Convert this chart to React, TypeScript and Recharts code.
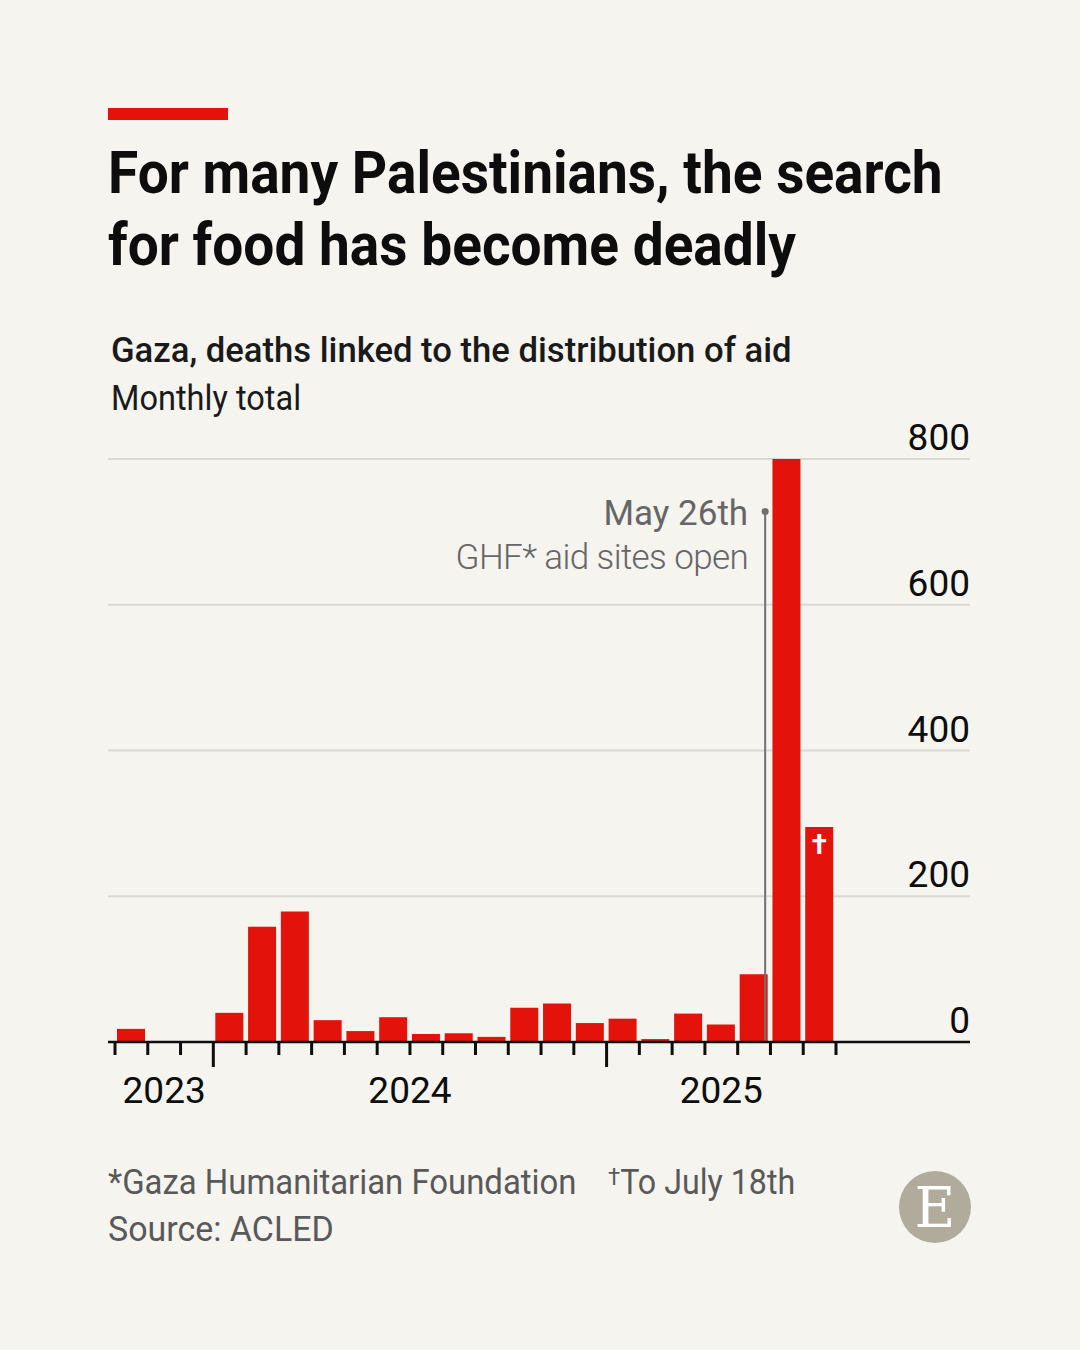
import React from 'react';
import { BarChart, Bar, XAxis, YAxis, CartesianGrid, ReferenceLine, LabelList } from 'recharts';

// ---------- data ----------
const months = [
  '2023-10', '2023-11', '2023-12',
  '2024-01', '2024-02', '2024-03', '2024-04', '2024-05', '2024-06',
  '2024-07', '2024-08', '2024-09', '2024-10', '2024-11', '2024-12',
  '2025-01', '2025-02', '2025-03', '2025-04', '2025-05', '2025-06', '2025-07',
];
const deaths = [18, 0, 0, 40, 158, 179, 30, 15, 34, 11, 12, 7, 47, 53, 26, 32, 4, 39, 24, 93, 800, 295];
const notes = ['', '', '', '', '', '', '', '', '', '', '', '', '', '', '', '', '', '', '', '', '', '†'];
const yTicks = [0, 200, 400, 600, 800];
const annotationMonth = '2025-05';
const annotationDay = 26;
const annotationDaysInMonth = 31;
const annotationValue = 728;
const annotationLines = ['May 26th', 'GHF* aid sites open'];

const data = months.map((m, i) => ({ month: m, deaths: deaths[i], note: notes[i] }));

// ---------- layout ----------
const W = 1080;
const H = 1350;
const PLOT_LEFT = 108;
const PLOT_RIGHT = 970;
const PLOT_TOP = 459;
const PLOT_BOTTOM = 1042;
const PAD_L = 7;
const PAD_R = 134;
const X_AXIS_H = 80;
const Y_AXIS_W = 2;
const BAND = (PLOT_RIGHT - PLOT_LEFT - PAD_L - PAD_R) / months.length;

const FONT = "Roboto, sans-serif";
const BG = '#f5f4ef';
const RED = '#e3120b';
const INK = '#0d0d0d';
const GREY = '#666666';

const yearOf = (m: string) => m.slice(0, 4);

const XTick = (props: any) => {
  const { x, y, payload } = props;
  const i = payload.index;
  const m = months[i];
  const half = BAND / 2;
  const isJan = m.endsWith('-01');
  const yr = yearOf(m);
  const idxs = months.map((mm, k) => (yearOf(mm) === yr ? k : -1)).filter((k) => k >= 0);
  const first = idxs[0];
  const last = idxs[idxs.length - 1];
  const showYear = i === first;
  const cx = x + ((first + last) / 2 - i) * BAND;
  return (
    <g>
      <line x1={x - half} x2={x - half} y1={y} y2={y + (isJan ? 25 : 13)} stroke={INK} strokeWidth={3} />
      {i === months.length - 1 && (
        <line x1={x + half} x2={x + half} y1={y} y2={y + 13} stroke={INK} strokeWidth={3} />
      )}
      {showYear && (
        <text x={cx} y={y + 61} textAnchor="middle" fontFamily={FONT} fontSize={37} fill={INK}>
          {yr}
        </text>
      )}
    </g>
  );
};

const YTick = (props: any) => {
  const { y, payload } = props;
  return (
    <text x={PLOT_RIGHT} y={y - 9} textAnchor="end" fontFamily={FONT} fontSize={37} fill={INK}>
      {payload.value}
    </text>
  );
};

const AnnotationShape = (props: any) => {
  const { x1, y1, x2, y2 } = props;
  const shift = BAND * (annotationDay / annotationDaysInMonth - 0.5);
  const lx = x1 + shift;
  const top = Math.min(y1, y2);
  const bottom = Math.max(y1, y2);
  return (
    <g>
      <line x1={lx} x2={lx} y1={top} y2={bottom} stroke="#707070" strokeWidth={2} />
      <circle cx={lx} cy={top} r={3.5} fill="#707070" />
      <text x={lx - 17} y={top + 14} textAnchor="end" fontFamily={FONT} fontSize={35} fill={GREY}>
        {annotationLines[0]}
      </text>
      <text x={lx - 17} y={top + 58} textAnchor="end" fontFamily={FONT} fontSize={35} fill={GREY} fontWeight={300} letterSpacing={-0.6}>
        {annotationLines[1]}
      </text>
    </g>
  );
};

const NoteLabel = (props: any) => {
  const { x, y, width, value } = props;
  if (!value) return null;
  return (
    <text x={x + width / 2} y={y + 27} textAnchor="middle" fontFamily={FONT} fontSize={28} fontWeight={700} fill="#ffffff">
      {value}
    </text>
  );
};

const squeeze = (k: number): React.CSSProperties => ({
  display: 'inline-block',
  transform: `scaleX(${k})`,
  transformOrigin: 'left top',
});

export default function App() {
  return (
    <div style={{ position: 'absolute', left: 0, top: 0, width: W, height: H, background: BG, overflow: 'hidden', fontFamily: FONT }}>
      <div style={{ position: 'absolute', left: 108, top: 108, width: 120, height: 12, background: RED }} />
      <div style={{ position: 'absolute', left: 108, top: 137, fontSize: 60, lineHeight: '72px', fontWeight: 700, color: INK, whiteSpace: 'nowrap' }}>
        <span style={squeeze(0.917)}>
          For many Palestinians, the search
          <br />
          for food has become deadly
        </span>
      </div>
      <div style={{ position: 'absolute', left: 111, top: 328, fontSize: 35, lineHeight: '46px', fontWeight: 500, color: '#1a1a1a', whiteSpace: 'nowrap' }}>
        <span style={squeeze(0.99)}>Gaza, deaths linked to the distribution of aid</span>
      </div>
      <div style={{ position: 'absolute', left: 111, top: 376, fontSize: 35, lineHeight: '46px', fontWeight: 400, color: '#1a1a1a', whiteSpace: 'nowrap' }}>
        <span style={squeeze(0.93)}>Monthly total</span>
      </div>

      <div style={{ position: 'absolute', left: 0, top: 0 }}>
        <BarChart
          width={W}
          height={H}
          data={data}
          margin={{ top: PLOT_TOP, left: PLOT_LEFT, right: W - PLOT_RIGHT - Y_AXIS_W, bottom: H - PLOT_BOTTOM - X_AXIS_H }}
        >
          <CartesianGrid horizontal vertical={false} stroke="#d8d8d6" strokeWidth={2} />
          <XAxis
            dataKey="month"
            type="category"
            interval={0}
            height={X_AXIS_H}
            padding={{ left: PAD_L, right: PAD_R }}
            axisLine={{ stroke: INK, strokeWidth: 2.5 }}
            tickLine={false}
            tickSize={0}
            tickMargin={0}
            tick={<XTick />}
          />
          <YAxis
            orientation="right"
            width={Y_AXIS_W}
            domain={[0, 800]}
            ticks={yTicks}
            interval={0}
            axisLine={false}
            tickLine={false}
            tick={<YTick />}
          />
          <Bar dataKey="deaths" fill={RED} barSize={28} isAnimationActive={false}>
            <LabelList dataKey="note" content={<NoteLabel />} />
          </Bar>
          <ReferenceLine
            segment={[{ x: annotationMonth, y: 0 }, { x: annotationMonth, y: annotationValue }]}
            shape={AnnotationShape}
            ifOverflow="visible"
          />
        </BarChart>
      </div>

      <div style={{ position: 'absolute', left: 108, top: 1160, fontSize: 35, lineHeight: '46px', color: '#595959', whiteSpace: 'nowrap' }}>
        <span style={squeeze(0.94)}>*Gaza Humanitarian Foundation</span>
      </div>
      <div style={{ position: 'absolute', left: 608, top: 1160, fontSize: 35, lineHeight: '46px', color: '#595959', whiteSpace: 'nowrap' }}>
        <span style={squeeze(0.92)}>
          <span style={{ fontSize: 24, verticalAlign: 'top', position: 'relative', top: -6 }}>†</span>To July 18th
        </span>
      </div>
      <div style={{ position: 'absolute', left: 108, top: 1207, fontSize: 35, lineHeight: '46px', color: '#595959', whiteSpace: 'nowrap' }}>
        <span style={squeeze(0.97)}>Source: ACLED</span>
      </div>

      <div style={{ position: 'absolute', left: 899, top: 1171, width: 72, height: 72, borderRadius: '50%', background: '#b1ab9c', display: 'flex', alignItems: 'center', justifyContent: 'center' }}>
        <span style={{ fontFamily: "'DejaVu Serif', 'Liberation Serif', serif", fontSize: 56, color: '#ffffff', lineHeight: '56px', marginTop: 2 }}>E</span>
      </div>
    </div>
  );
}
